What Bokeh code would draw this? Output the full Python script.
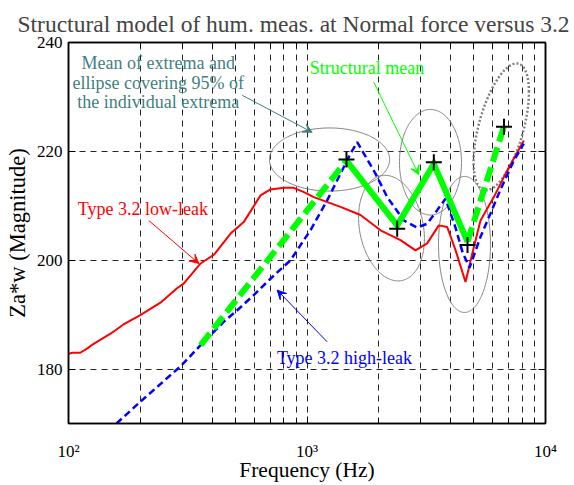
import numpy as np
from bokeh.plotting import figure
from bokeh.models import (FixedTicker, LogAxis, LinearAxis, Arrow, VeeHead,
                          Label, Range1d, CustomJSTickFormatter, Title)
from bokeh.embed import file_html
from bokeh.resources import INLINE

FONT = "Liberation Serif"

# ---------------- data ----------------
low_leak_freq = [100, 104, 112, 120, 127, 150, 170, 194, 200, 243, 286, 304, 358, 407,
                 478, 543, 638, 703, 799, 881, 970, 1068, 1382, 1676, 2033, 2466, 2851,
                 3191, 3569, 3871, 4199, 4620, 5006, 5340, 6072, 6910, 8110]
low_leak_mag = [182.8, 183.0, 183.0, 183.8, 184.6, 186.5, 188.2, 189.6, 189.9, 192.2,
                194.9, 195.7, 199.4, 201.0, 204.9, 207.0, 211.9, 213.0, 213.3, 213.3,
                212.5, 211.6, 209.8, 208.3, 205.5, 203.7, 201.8, 203.1, 206.4, 206.1,
                201.8, 196.0, 202.4, 207.3, 211.6, 216.5, 222.0]

high_leak_freq = [159, 200, 295, 358, 448, 510, 598, 703, 853, 970, 1034, 1215, 1382,
                  1522, 1624, 1731, 1937, 2169, 2546, 2898, 3191, 3515, 3808, 4194,
                  4487, 4801, 5340, 5880, 6477, 7365, 8110]
high_leak_mag = [170.0, 174.0, 180.5, 184.4, 188.7, 190.8, 193.6, 196.6, 200.0, 203.7,
                 205.5, 211.0, 215.9, 219.6, 221.7, 219.6, 215.9, 211.6, 207.3, 206.0,
                 206.7, 209.2, 211.3, 206.0, 201.5, 198.6, 204.3, 208.6, 213.0, 218.3,
                 221.4]

mean_freq = [358, 1464, 2389, 3402, 4710, 6700]
mean_mag = [184.4, 218.3, 206.4, 217.7, 203.4, 224.6]

extrema_freq = [1464, 2389, 3402, 4710, 6700]
extrema_mag = [218.5, 205.8, 218.0, 202.8, 224.5]

ellipse_center_freq = [1243, 2261, 3294, 4575, 6524]
ellipse_center_mag = [218.5, 205.9, 218.0, 202.9, 224.5]
ellipse_half_decades = [0.252, 0.138, 0.130, 0.109, 0.116]
ellipse_half_mag = [5.8, 9.7, 9.7, 12.5, 11.65]
ellipse_corr = [0.0, -0.2, 0.0, 0.0, 0.55]
ellipse_dotted = [False, False, False, False, True]

x_major_ticks = [100, 1000, 10000]
x_minor_ticks = [200, 300, 400, 500, 600, 700, 800, 900,
                 2000, 3000, 4000, 5000, 6000, 7000, 8000, 9000]
x_tick_labels = ["10\u00b2", "10\u00b3", "10\u2074"]
y_ticks = [180, 200, 220, 240]

# ---------------- figure ----------------
p = figure(width=574, height=485, x_axis_type="log",
           x_range=Range1d(100, 10000), y_range=Range1d(170, 240),
           output_backend="svg", toolbar_location=None, tools="",
           min_border_left=68, min_border_right=29, min_border_top=42,
           min_border_bottom=62,
           title="Structural model of hum. meas. at Normal force versus 3.2")
p.background_fill_color = "white"
p.border_fill_color = "white"
p.outline_line_color = "black"
p.outline_line_width = 1.5

p.title.text_font = FONT
p.title.text_font_size = "23.5px"
p.title.text_font_style = "normal"
p.title.align = "left"
p.title.offset = -51
p.title.standoff = 11

xt = FixedTicker(ticks=x_major_ticks, minor_ticks=x_minor_ticks)
yt = FixedTicker(ticks=y_ticks, minor_ticks=[])

blank = CustomJSTickFormatter(code="return '';")


def style_axis(ax, labels=True):
    ax.axis_line_color = "black"
    ax.axis_line_width = 1.5
    ax.major_tick_in = 7
    ax.major_tick_out = 0
    ax.minor_tick_in = 5
    ax.minor_tick_out = 0
    ax.major_tick_line_color = "black"
    ax.minor_tick_line_color = "black"
    ax.major_label_text_font = FONT
    ax.major_label_text_font_size = "17px"
    ax.major_label_text_color = "black"
    if not labels:
        ax.formatter = blank
        ax.major_label_standoff = 0


xa = p.xaxis[0]
xa.ticker = xt
style_axis(xa)
xa.major_label_overrides = {t: s for t, s in zip(x_major_ticks, x_tick_labels)}
xa.major_label_standoff = 18

ya = p.yaxis[0]
ya.ticker = yt
style_axis(ya)
ya.major_label_standoff = 6

top = LogAxis(ticker=xt)
style_axis(top, labels=False)
p.add_layout(top, "above")
right = LinearAxis(ticker=yt)
style_axis(right, labels=False)
p.add_layout(right, "right")

p.xgrid.ticker = xt
p.ygrid.ticker = yt
for g in (p.xgrid[0], p.ygrid[0]):
    g.grid_line_color = "black"
    g.grid_line_width = 1
    g.grid_line_dash = "6 5"
    g.grid_line_alpha = 0.85
p.xgrid[0].minor_grid_line_color = "black"
p.xgrid[0].minor_grid_line_dash = "6 5"
p.xgrid[0].minor_grid_line_alpha = 0.85

# ---------------- axis titles (serif) ----------------
p.add_layout(Title(text="Frequency (Hz)", text_font=FONT, text_font_size="21.5px",
                   text_font_style="normal", text_color="black", align="center",
                   standoff=-16), "below")
p.add_layout(Title(text="Za*w (Magnitude)", text_font=FONT, text_font_size="22.5px",
                   text_font_style="normal", text_color="black", align="center",
                   vertical_align="middle", standoff=5), "left")

# ---------------- ellipses ----------------
t = np.linspace(0, 2 * np.pi, 240)
for fc, mc, hx, hy, r, dot in zip(ellipse_center_freq, ellipse_center_mag,
                                   ellipse_half_decades, ellipse_half_mag,
                                   ellipse_corr, ellipse_dotted):
    ex = 10 ** (np.log10(fc) + hx * np.cos(t))
    ey = mc + hy * (r * np.cos(t) + np.sqrt(1 - r * r) * np.sin(t))
    if dot:
        p.line(ex, ey, line_color="#808080", line_width=2.5, line_dash="2 2")
    else:
        p.line(ex, ey, line_color="#808080", line_width=1)

# ---------------- curves ----------------
p.line(low_leak_freq, low_leak_mag, line_color="#ff0000", line_width=2)
p.line(high_leak_freq, high_leak_mag, line_color="#0000ff", line_width=2.5,
       line_dash="7 4")

p.line(mean_freq[:2], mean_mag[:2], line_color="#00ff00", line_width=6,
       line_dash="15 6")
p.line(mean_freq[1:-1], mean_mag[1:-1], line_color="#00ff00", line_width=6,
       line_join="miter")
p.line(mean_freq[-2:], mean_mag[-2:], line_color="#00ff00", line_width=6,
       line_dash="15 6")

p.scatter(extrema_freq, extrema_mag, marker="cross", size=16, line_width=2,
          line_color="black")

# ---------------- annotations ----------------
teal = "#3f7f7f"
for txt, yy in zip(["Mean of extrema and", "ellipse covering 95% of",
                    "the individual extrema"], [236.28, 232.61, 229.05]):
    p.add_layout(Label(x=238, y=yy, text=txt, text_font=FONT,
                       text_font_size="18px", text_color=teal,
                       text_align="center", text_baseline="alphabetic"))
p.add_layout(Label(x=1785, y=235.29, text="Structural mean", text_font=FONT,
                   text_font_size="18px", text_color="#00ff00",
                   text_align="center", text_baseline="alphabetic"))
p.add_layout(Label(x=205, y=209.32, text="Type 3.2 low-leak", text_font=FONT,
                   text_font_size="18px", text_color="#ff0000",
                   text_align="center", text_baseline="alphabetic"))
p.add_layout(Label(x=1436, y=182.12, text="Type 3.2 high-leak", text_font=FONT,
                   text_font_size="18px", text_color="#0000ff",
                   text_align="center", text_baseline="alphabetic"))

for (xs, ys, xe, ye, c) in [(535, 230.3, 1051, 223.5, teal),
                            (1906, 232.7, 2943, 215.7, "#00ff00"),
                            (217, 207.3, 352, 199.4, "#ff0000"),
                            (1215, 185.0, 750, 194.5, "#0000ff")]:
    p.add_layout(Arrow(x_start=xs, y_start=ys, x_end=xe, y_end=ye,
                       line_color=c, line_width=1,
                       end=VeeHead(size=9, fill_color=c, line_color=c)))

open("out.html", "w").write(file_html(p, INLINE))
